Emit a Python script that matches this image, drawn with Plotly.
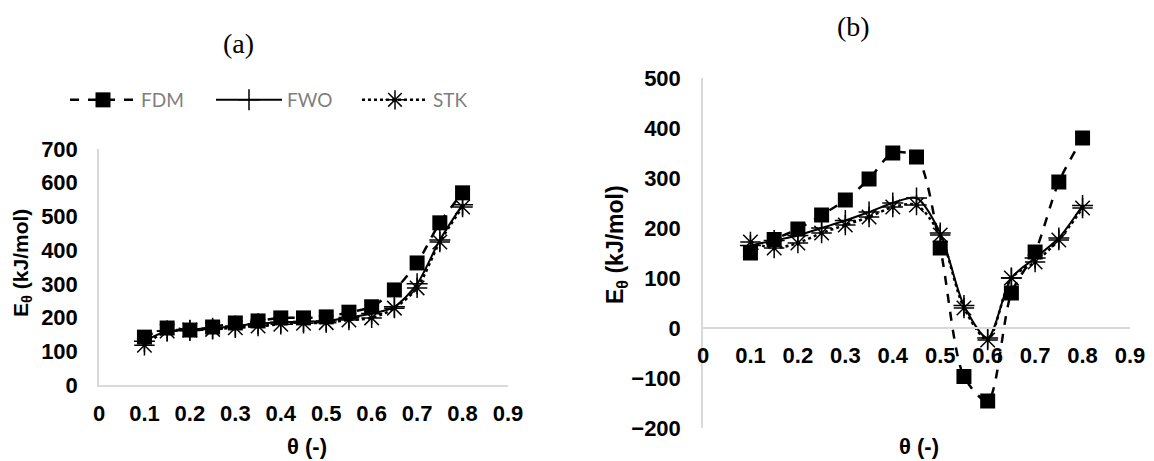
import plotly.graph_objects as go

theta = [0.1, 0.15, 0.2, 0.25, 0.3, 0.35, 0.4, 0.45, 0.5, 0.55, 0.6, 0.65, 0.7, 0.75, 0.8]

# Panel (a)
fdm_a = [142, 169, 163, 172, 184, 190, 199, 199, 202, 216, 232, 282, 362, 481, 570]
fwo_a = [130, 160, 162, 168, 175, 182, 186, 188, 190, 200, 212, 232, 300, 430, 535]
stk_a = [118, 160, 163, 165, 170, 175, 180, 183, 185, 193, 199, 228, 288, 424, 528]

# Panel (b)
fdm_b = [150, 177, 198, 226, 256, 298, 350, 342, 160, -97, -146, 70, 152, 292, 380]
fwo_b = [165, 175, 185, 200, 215, 232, 250, 260, 190, 45, -20, 100, 140, 180, 245]
stk_b = [172, 160, 170, 190, 206, 222, 242, 246, 186, 40, -24, 100, 132, 176, 240]

series_names = ["FDM", "FWO", "STK"]
x_ticks = [0, 0.1, 0.2, 0.3, 0.4, 0.5, 0.6, 0.7, 0.8, 0.9]
x_tick_text = ["0", "0.1", "0.2", "0.3", "0.4", "0.5", "0.6", "0.7", "0.8", "0.9"]
ya_range = [0, 700]
yb_range = [-200, 500]

# page has an 8px body margin: the figure is drawn offset by (8, 8)
OFF = 8
W, H = 1154 - OFF, 461 - OFF


def px(x):
    return (x - OFF) / W


def py(y):
    return (H - (y - OFF)) / H


BLACK = "#000000"
GRID = "#d9d9d9"
TICKFONT = dict(family="Liberation Sans, Arial", size=22, color=BLACK, weight="bold")

styles = {
    "FDM": dict(line=dict(color=BLACK, width=2.5, dash="dash", shape="spline", smoothing=0.8),
                marker=dict(symbol="square", size=15, color=BLACK, line=dict(color=BLACK, width=0))),
    "FWO": dict(line=dict(color=BLACK, width=2, dash="solid", shape="spline", smoothing=0.8),
                marker=dict(symbol="cross-thin-open", size=15, color=BLACK, line=dict(color=BLACK, width=1.5))),
    "STK": dict(line=dict(color=BLACK, width=2.5, dash="dot", shape="spline", smoothing=0.8),
                marker=dict(symbol="asterisk-open", size=17, color=BLACK, line=dict(color=BLACK, width=1.5))),
}

fig = go.Figure()
for name, ys in zip(series_names, [fdm_a, fwo_a, stk_a]):
    fig.add_trace(go.Scatter(x=theta, y=ys, name=name, mode="lines+markers",
                             xaxis="x", yaxis="y", showlegend=True, **styles[name]))
for name, ys in zip(series_names, [fdm_b, fwo_b, stk_b]):
    fig.add_trace(go.Scatter(x=theta, y=ys, name=name, mode="lines+markers",
                             xaxis="x2", yaxis="y2", showlegend=False, **styles[name]))

# domains (paper fractions), from reference pixel positions
xa_dom = [px(99), px(508)]
ya_dom = [py(385), py(149)]
xb_dom = [px(703), px(1130)]
yb_dom = [py(428), py(78)]
zero_pos = yb_dom[0] + (0 - yb_range[0]) / (yb_range[1] - yb_range[0]) * (yb_dom[1] - yb_dom[0])

common_x = dict(range=[0, 0.9], tickvals=x_ticks, ticktext=x_tick_text, showgrid=False,
                zeroline=False, showline=True, linecolor=GRID, linewidth=1.5, ticks="",
                tickfont=TICKFONT, ticklabelstandoff=8, automargin=False)
common_y = dict(dtick=100, showgrid=False, zeroline=False, showline=True, linecolor=GRID,
                linewidth=1.5, ticks="", tickfont=TICKFONT, automargin=False)

fig.update_layout(
    width=W, height=H,
    margin=dict(l=0, r=0, t=0, b=0, autoexpand=False),
    paper_bgcolor="white", plot_bgcolor="white",
    xaxis=dict(domain=xa_dom, anchor="y", **common_x),
    yaxis=dict(domain=ya_dom, anchor="x", range=ya_range, ticklabelstandoff=15, **common_y),
    xaxis2=dict(domain=xb_dom, anchor="free", position=zero_pos, **common_x),
    yaxis2=dict(domain=yb_dom, anchor="x2", range=yb_range, ticklabelstandoff=16, **common_y),
    legend=dict(orientation="h", x=px(65), y=py(100), xanchor="left", yanchor="middle",
                font=dict(family="Lato, Carlito, Noto Sans", size=19, color="#7f7f7f"),
                itemwidth=66, entrywidth=65, bgcolor="rgba(0,0,0,0)", tracegroupgap=0),
    showlegend=True,
)

title_font = dict(family="Liberation Serif, Times New Roman", size=28, color=BLACK)
fig.add_annotation(text="(a)", x=px(238), y=py(44), xref="paper", yref="paper",
                   showarrow=False, font=title_font, xanchor="center", yanchor="middle")
fig.add_annotation(text="(b)", x=px(853), y=py(27), xref="paper", yref="paper",
                   showarrow=False, font=title_font, xanchor="center", yanchor="middle")

xt_font = dict(family="Liberation Sans, Arial", size=22, color=BLACK, weight="bold")
fig.add_annotation(text="θ (-)", x=px(307), y=py(446), xref="paper", yref="paper",
                   showarrow=False, font=xt_font, xanchor="center", yanchor="middle")
fig.add_annotation(text="θ (-)", x=px(919), y=py(446), xref="paper", yref="paper",
                   showarrow=False, font=xt_font, xanchor="center", yanchor="middle")
fig.add_annotation(text="E<sub>θ</sub> (kJ/mol)", x=px(22), y=py(263), xref="paper",
                   yref="paper", showarrow=False, textangle=-90,
                   font=dict(family="Liberation Sans, Arial", size=21, color=BLACK, weight="bold"),
                   xanchor="center", yanchor="middle")
fig.add_annotation(text="E<sub>θ</sub> (kJ/mol)", x=px(616), y=py(245), xref="paper",
                   yref="paper", showarrow=False, textangle=-90,
                   font=dict(family="Liberation Sans, Arial", size=23, color=BLACK, weight="bold"),
                   xanchor="center", yanchor="middle")

fig.write_html("out.html")
